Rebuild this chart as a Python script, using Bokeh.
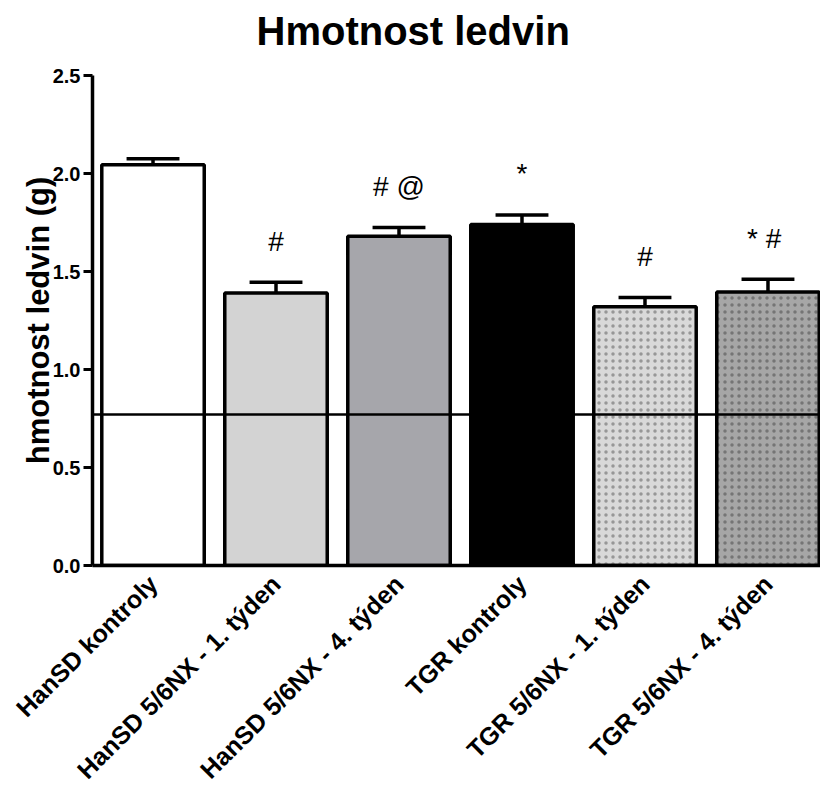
from bokeh.plotting import figure
from bokeh.models import (ColumnDataSource, Range1d, FixedTicker, NumeralTickFormatter,
                          Span, Title)
from bokeh.embed import file_html
from bokeh.resources import INLINE

# Kidney weight per group (g): mean and SEM
groups = ["HanSD kontroly", "HanSD 5/6NX - 1. týden", "HanSD 5/6NX - 4. týden",
          "TGR kontroly", "TGR 5/6NX - 1. týden", "TGR 5/6NX - 4. týden"]
means = [2.045, 1.39, 1.68, 1.74, 1.32, 1.395]
sems = [0.03, 0.055, 0.045, 0.048, 0.047, 0.065]
marks = ["", "#", "# @", "*", "#", "*  #"]
reference_level = 0.77
y_ticks = [0.0, 0.5, 1.0, 1.5, 2.0, 2.5]

fills = ["#ffffff", "#d3d3d3", "#a6a6ab", "#000000", "#d9d9d9", "#a6a6a6"]
hatches = [" ", " ", " ", " ", ".", "."]
hatch_colors = ["#000000", "#000000", "#000000", "#000000", "#8c8c8c", "#6c6c6c"]

FONT = "Liberation Sans"

xs = list(range(len(groups)))
tops = [m + s for m, s in zip(means, sems)]
cap_half = 0.215

src = ColumnDataSource(dict(
    x=xs, mean=means, top=tops,
    cap_l=[x - cap_half for x in xs], cap_r=[x + cap_half for x in xs],
    fill=fills, hatch=hatches, hcol=hatch_colors,
    mark=marks, mark_y=[t + 0.21 for t in tops],
))

p = figure(width=820, height=796, output_backend="svg", toolbar_location=None,
           x_range=Range1d(-0.492, 5.427), y_range=Range1d(0, 2.5),
           min_border_left=92, min_border_right=0, min_border_top=75,
           min_border_bottom=227, title="Hmotnost ledvin")
p.outline_line_color = None
p.grid.visible = False
p.background_fill_color = "white"
p.border_fill_color = "white"

p.title.text_font = FONT
p.title.text_font_size = "40px"
p.title.text_font_style = "bold"
p.title.text_color = "black"
p.title.align = "left"
p.title.offset = 164
p.title.standoff = 0

# blank spacer between the heading and the plotting area
p.add_layout(Title(text=" ", text_font_size="19px", standoff=0), "above")

# error bars (upper only)
p.segment(x0="x", y0="mean", x1="x", y1="top", source=src, line_color="black",
          line_width=3.5)
p.segment(x0="cap_l", y0="top", x1="cap_r", y1="top", source=src,
          line_color="black", line_width=3.5)

p.vbar(x="x", top="mean", bottom=0, width=0.833, source=src, fill_color="fill",
       line_color="black", line_width=3.5, hatch_pattern="hatch",
       hatch_color="hcol", hatch_scale=7, hatch_weight=1, hatch_alpha=0.85)

p.add_layout(Span(location=reference_level, dimension="width", line_color="black",
                  line_width=2.5))

p.text(x="x", y="mark_y", text="mark", source=src, text_align="center",
       text_baseline="middle", text_font_size="28px", text_color="black",
       text_font={"value": FONT})

# axes
for ax in (p.xaxis[0], p.yaxis[0]):
    ax.axis_line_width = 3.5
    ax.axis_line_color = "black"
    ax.major_tick_line_width = 3
    ax.minor_tick_line_color = None
    ax.major_label_text_font = FONT
    ax.major_label_text_font_style = "bold"
    ax.major_label_text_color = "black"

p.yaxis.ticker = FixedTicker(ticks=y_ticks)
p.yaxis.formatter = NumeralTickFormatter(format="0.0")
p.yaxis.major_tick_out = 9
p.yaxis.major_tick_in = 0
p.yaxis.major_label_text_font_size = "20px"
p.yaxis.major_label_standoff = 3
p.yaxis.axis_label = "hmotnost ledvin (g)"
p.yaxis.axis_label_text_font = FONT
p.yaxis.axis_label_text_font_size = "31px"
p.yaxis.axis_label_text_font_style = "bold"
p.yaxis.axis_label_text_color = "black"
p.yaxis.axis_label_standoff = -6

p.xaxis.ticker = FixedTicker(ticks=xs)
p.xaxis.major_label_overrides = {x: g for x, g in zip(xs, groups)}
p.xaxis.major_tick_line_color = None
p.xaxis.major_label_orientation = 0.785398
p.xaxis.major_label_text_font_size = "25px"
p.xaxis.major_label_standoff = 8

open("out.html", "w").write(file_html(p, INLINE))
